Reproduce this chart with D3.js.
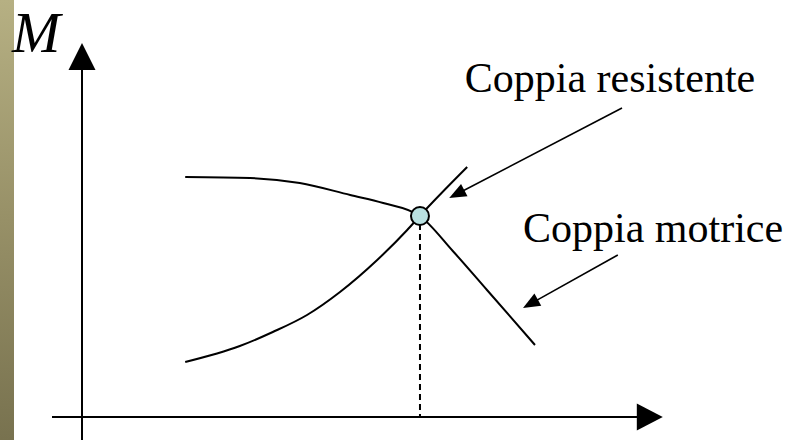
<!DOCTYPE html>
<html>
<head>
<meta charset="utf-8">
<script src="https://cdn.jsdelivr.net/npm/d3@7"></script>
<style>
  html, body { margin: 0; padding: 0; background: #fff; }
  svg { display: block; }
  text { font-family: "Liberation Serif", "Times New Roman", serif; fill: #000; }
</style>
</head>
<body>
<div id="wrapper"></div>
<script>
// curve data, in abstract units (x = speed, y = torque)
const motriceX = [17.2, 28, 36.3, 44.7, 50.2, 56.3, 61.8, 67.5, 75.5]
const motriceY = [60, 59.75, 58.5, 55.5, 53.5, 50.25, 41.5, 31.75, 18]
const resistenteX = [17.2, 26.3, 31.8, 37.5, 43, 49.2, 54.2, 56.3, 64.2]
const resistenteY = [13.75, 17.75, 21.25, 25.5, 31.25, 39.25, 46.75, 50.25, 62.5]
const operatingPoint = [56.33, 50.25]

// labels and their pointer arrows [x1, y1, x2, y2]
const labels = ["Coppia resistente", "Coppia motrice"]
const labelPos = [[63.8, 81.25], [73.5, 43.75]]
const pointers = [[90, 77.25, 61.2, 54.75], [89.3, 40.5, 73.5, 27.25]]
const axisLabel = "M"

const dimensions = { width: 793, height: 440 }

const wrapper = d3.select("#wrapper")
  .append("svg")
  .attr("width", dimensions.width)
  .attr("height", dimensions.height)

const defs = wrapper.append("defs")
const grad = defs.append("linearGradient")
  .attr("id", "strip")
  .attr("x1", 0).attr("y1", 0).attr("x2", 0).attr("y2", 1)
grad.append("stop").attr("offset", "0%").attr("stop-color", "#b6b083")
grad.append("stop").attr("offset", "50%").attr("stop-color", "#979067")
grad.append("stop").attr("offset", "100%").attr("stop-color", "#78724f")

wrapper.append("rect")
  .attr("x", 0).attr("y", 0)
  .attr("width", 14).attr("height", dimensions.height)
  .attr("fill", "url(#strip)")

// scales
const xScale = d3.scaleLinear().domain([0, 100]).range([82, 682])
const yScale = d3.scaleLinear().domain([0, 100]).range([417, 17])

const xMin = -5, xMax = 96.8
const yMin = -6, yMax = 93.5

// arrowhead helper: triangle with tip at (tx,ty) pointing along (dx,dy)
function arrowHead(tx, ty, dx, dy, len, halfW) {
  const l = Math.hypot(dx, dy)
  const ux = dx / l, uy = dy / l
  const bx = tx - ux * len, by = ty - uy * len
  return [[tx, ty], [bx - uy * halfW, by + ux * halfW], [bx + uy * halfW, by - ux * halfW]]
}

const bounds = wrapper.append("g")

// axes
bounds.append("line")
  .attr("x1", xScale(xMin)).attr("x2", xScale(xMax) - 20)
  .attr("y1", yScale(0)).attr("y2", yScale(0))
  .attr("stroke", "#000").attr("stroke-width", 2)
bounds.append("line")
  .attr("x1", xScale(0)).attr("x2", xScale(0))
  .attr("y1", yScale(yMin)).attr("y2", yScale(yMax) + 20)
  .attr("stroke", "#000").attr("stroke-width", 2)

bounds.append("polygon")
  .attr("points", arrowHead(xScale(xMax), yScale(0), 1, 0, 26, 13.5).join(" "))
  .attr("fill", "#000")
bounds.append("polygon")
  .attr("points", arrowHead(xScale(0), yScale(yMax), 0, -1, 27, 13.5).join(" "))
  .attr("fill", "#000")

bounds.append("text")
  .attr("x", 12)
  .attr("y", 52)
  .style("font-size", "58px")
  .style("font-style", "italic")
  .text(axisLabel)

// curves
const line = d3.line()
  .x(d => xScale(d[0]))
  .y(d => yScale(d[1]))
  .curve(d3.curveMonotoneX)

bounds.append("path")
  .datum(d3.zip(motriceX, motriceY))
  .attr("d", line)
  .attr("fill", "none")
  .attr("stroke", "#000")
  .attr("stroke-width", 2)

bounds.append("path")
  .datum(d3.zip(resistenteX, resistenteY))
  .attr("d", line)
  .attr("fill", "none")
  .attr("stroke", "#000")
  .attr("stroke-width", 2)

// dashed drop line
bounds.append("line")
  .attr("x1", xScale(operatingPoint[0])).attr("x2", xScale(operatingPoint[0]))
  .attr("y1", yScale(operatingPoint[1]) + 8).attr("y2", yScale(0))
  .attr("stroke", "#000")
  .attr("stroke-width", 2)
  .attr("stroke-dasharray", "6,4")

bounds.append("circle")
  .attr("cx", xScale(operatingPoint[0]))
  .attr("cy", yScale(operatingPoint[1]))
  .attr("r", 9)
  .attr("fill", "#b9e1e1")
  .attr("stroke", "#000")
  .attr("stroke-width", 2)

// labels + pointer arrows
bounds.selectAll(".label")
  .data(labels)
  .join("text")
  .attr("class", "label")
  .attr("x", (d, i) => xScale(labelPos[i][0]))
  .attr("y", (d, i) => yScale(labelPos[i][1]))
  .style("font-size", "42px")
  .text(d => d)

pointers.forEach(p => {
  const x1 = xScale(p[0]), y1 = yScale(p[1])
  const x2 = xScale(p[2]), y2 = yScale(p[3])
  const dx = x2 - x1, dy = y2 - y1
  const l = Math.hypot(dx, dy)
  bounds.append("line")
    .attr("x1", x1).attr("y1", y1)
    .attr("x2", x2 - dx / l * 12).attr("y2", y2 - dy / l * 12)
    .attr("stroke", "#000")
    .attr("stroke-width", 1.6)
  bounds.append("polygon")
    .attr("points", arrowHead(x2, y2, dx, dy, 17, 7).join(" "))
    .attr("fill", "#000")
})
</script>
</body>
</html>
